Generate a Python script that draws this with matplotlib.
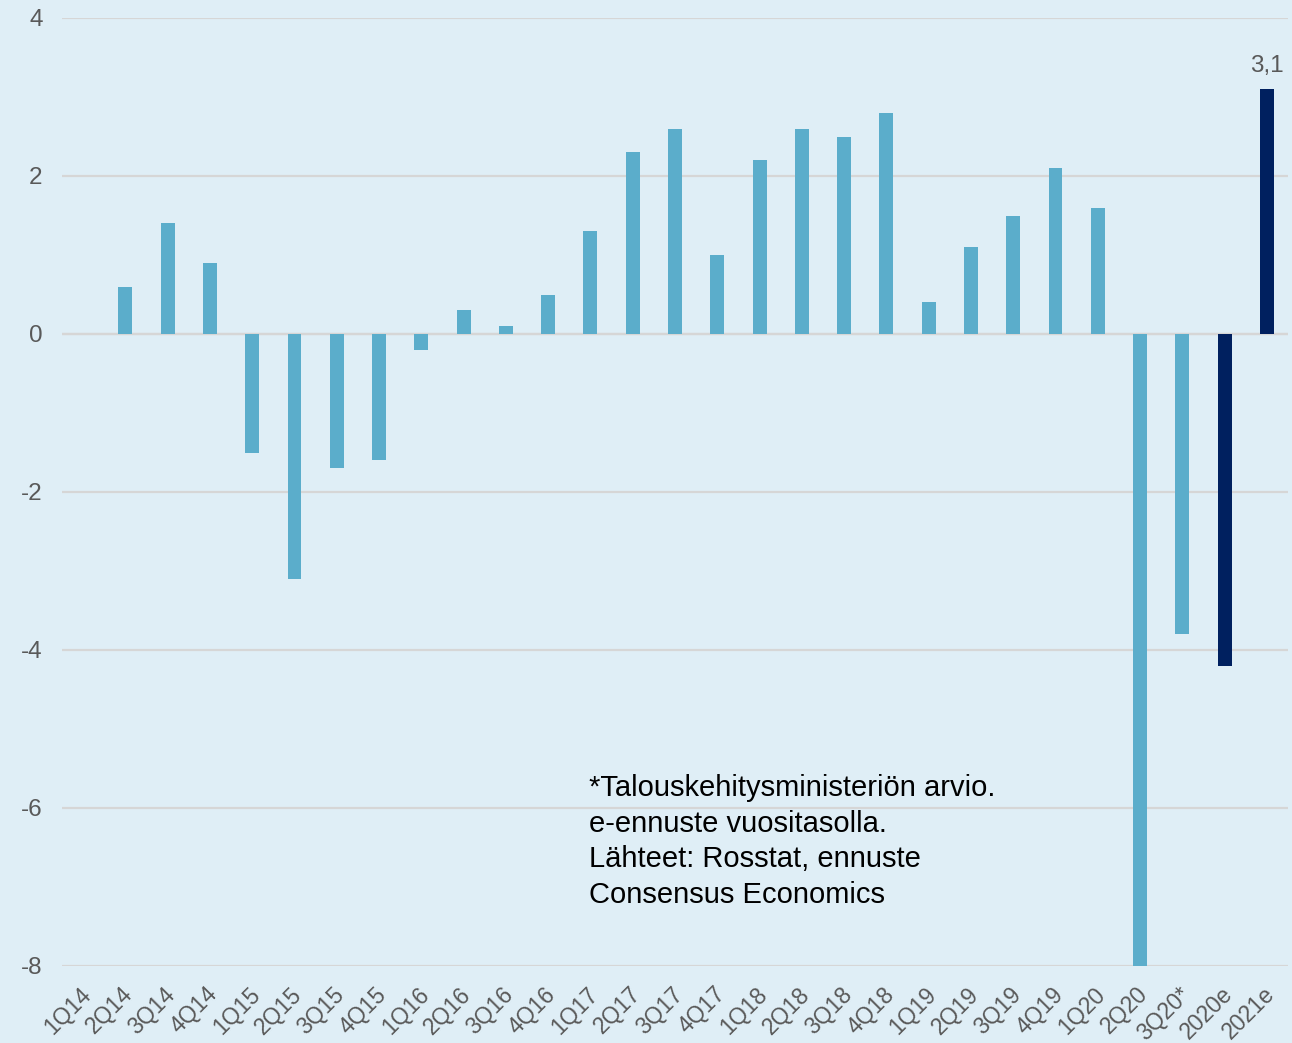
import matplotlib.pyplot as plt
import matplotlib.transforms as mtransforms

plt.rcParams['font.family'] = ['Liberation Sans', 'DejaVu Sans']

# quarters and annual forecasts
labels = ["1Q14", "2Q14", "3Q14", "4Q14", "1Q15", "2Q15", "3Q15", "4Q15",
          "1Q16", "2Q16", "3Q16", "4Q16", "1Q17", "2Q17", "3Q17", "4Q17",
          "1Q18", "2Q18", "3Q18", "4Q18", "1Q19", "2Q19", "3Q19", "4Q19",
          "1Q20", "2Q20", "3Q20*", "2020e", "2021e"]
values = [0.0, 0.6, 1.4, 0.9, -1.5, -3.1, -1.7, -1.6,
          -0.2, 0.3, 0.1, 0.5, 1.3, 2.3, 2.6, 1.0,
          2.2, 2.6, 2.5, 2.8, 0.4, 1.1, 1.5, 2.1,
          1.6, -8.0, -3.8, -4.2, 3.1]
forecast = ["2020e", "2021e"]

bg = "#DFEEF6"
light = "#5BADCB"
dark = "#00205F"
grey = "#595959"

fig = plt.figure(figsize=(12.92, 10.43), dpi=100, facecolor=bg)
ax = fig.add_axes([62 / 1292, 1 - 966 / 1043, 1226 / 1292, 948 / 1043])
ax.set_facecolor(bg)

x = list(range(len(labels)))
colors = [dark if l in forecast else light for l in labels]
ax.bar(x, values, width=0.33, color=colors, zorder=3)

ax.set_xlim(-0.5, len(labels) - 0.5)
ax.set_ylim(-8, 4)
ax.set_yticks([-8, -6, -4, -2, 0, 2, 4])
ax.set_yticklabels(["-8", "-6", "-4", "-2", "0", "2", "4"])
ax.yaxis.grid(True, color="#D6D6D6", linewidth=1.6, zorder=0)
ax.axhline(0, color="#D6D6D6", linewidth=1.6, zorder=1)
for s in ax.spines.values():
    s.set_visible(False)
ax.tick_params(axis="y", length=0, pad=14, labelsize=17.5, labelcolor=grey)
ax.tick_params(axis="x", length=0, pad=12, labelsize=16.5, labelcolor=grey)
ax.set_xticks(x)
ax.set_xticklabels(labels, rotation=45, ha="right", rotation_mode="anchor")
shift = mtransforms.ScaledTranslation(-0.04, 0, fig.dpi_scale_trans)
for t in ax.get_xticklabels():
    t.set_transform(t.get_transform() + shift)

ax.text(x[-1], values[-1] + 0.15, "3,1", ha="center", va="bottom",
        fontsize=17.5, color=grey)

ax.text(0.4295, 0.2025, "*Talouskehitysministeriön arvio.\ne-ennuste vuositasolla.\n"
        "Lähteet: Rosstat, ennuste\nConsensus Economics",
        transform=ax.transAxes, fontsize=21, color="black", va="top",
        linespacing=1.35)

fig.savefig("out.png", dpi=100, facecolor=bg)
